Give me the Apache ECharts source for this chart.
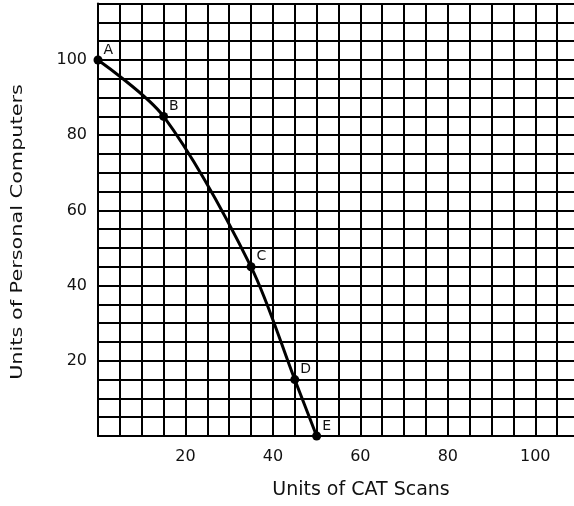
<!DOCTYPE html>
<html>
<head>
<meta charset="utf-8">
<script src="https://cdn.jsdelivr.net/npm/echarts@6/dist/echarts.min.js"></script>
<style>
  html, body { margin: 0; padding: 0; background: #fff; }
  #chart { width: 574px; height: 506px; }
</style>
</head>
<body>
<div id="chart"></div>
<script>
// Production possibilities: personal computers vs CAT scans
const pointNames = ['A', 'B', 'C', 'D', 'E'];
const catScans = [0, 15, 35, 45, 50];
const personalComputers = [100, 85, 45, 15, 0];

const xTickLabels = [20, 40, 60, 80, 100];
const yTickLabels = [20, 40, 60, 80, 100];

const xTitle = 'Units of CAT Scans';
const yTitle = 'Units of Personal Computers';

const FONT = '"DejaVu Sans", "Liberation Sans", Arial, sans-serif';

const chart = echarts.init(document.getElementById('chart'), null, { renderer: 'canvas' });

const gridLine = { show: true, lineStyle: { color: '#000', width: 2 } };

chart.setOption({
  backgroundColor: '#fff',
  animation: false,
  grid: {
    left: 98, top: 3.6, width: 481, height: 432.4,
    containLabel: false,
    outerBoundsMode: 'none'
  },
  xAxis: {
    type: 'value',
    min: 0,
    max: 110,
    interval: 5,
    axisLine: { show: true, lineStyle: { color: '#000', width: 2 } },
    axisTick: { show: false },
    splitLine: gridLine,
    axisLabel: {
      margin: 13,
      color: '#111',
      fontFamily: FONT,
      fontSize: 16,
      formatter: v => (xTickLabels.includes(v) ? String(v) : '')
    }
  },
  yAxis: {
    type: 'value',
    min: 0,
    max: 115,
    interval: 5,
    axisLine: { show: true, lineStyle: { color: '#000', width: 2 } },
    axisTick: { show: false },
    splitLine: gridLine,
    axisLabel: {
      margin: 11,
      color: '#111',
      fontFamily: FONT,
      fontSize: 16,
      formatter: v => (yTickLabels.includes(v) ? String(v) : '')
    }
  },
  graphic: [
    {
      type: 'text',
      x: 361,
      y: 490,
      style: {
        text: xTitle,
        font: '19px ' + FONT,
        fill: '#111',
        textAlign: 'center',
        textVerticalAlign: 'middle'
      }
    },
    {
      type: 'text',
      x: 18,
      y: 232,
      rotation: Math.PI / 2,
      scaleX: 1.3,
      style: {
        text: yTitle,
        font: '16px ' + FONT,
        fill: '#111',
        textAlign: 'center',
        textVerticalAlign: 'middle'
      }
    }
  ],
  series: [
    {
      type: 'line',
      data: catScans.map((x, i) => ({ value: [x, personalComputers[i]], name: pointNames[i] })),
      smooth: 0.3,
      clip: false,
      symbol: 'circle',
      symbolSize: 9,
      lineStyle: { color: '#000', width: 3 },
      itemStyle: { color: '#000' },
      label: {
        show: true,
        position: 'right',
        distance: 1,
        offset: [0, -10],
        color: '#111',
        fontFamily: FONT,
        fontSize: 14,
        formatter: p => p.name
      }
    }
  ]
});
</script>
</body>
</html>
